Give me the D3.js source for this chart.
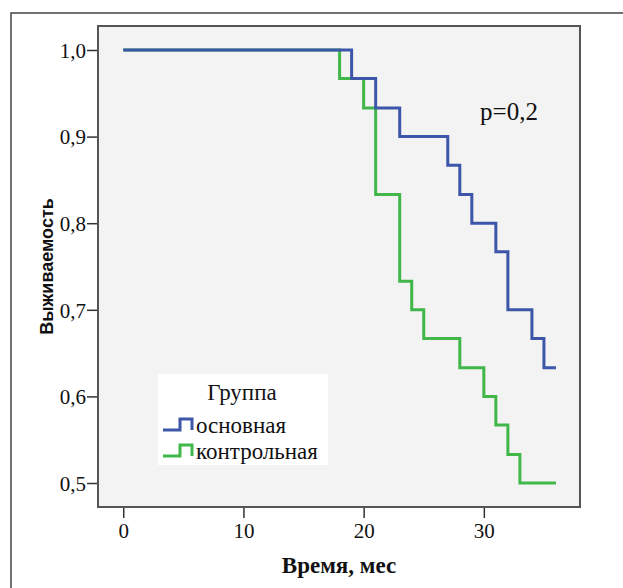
<!DOCTYPE html>
<html>
<head>
<meta charset="utf-8">
<script src="https://cdn.jsdelivr.net/npm/d3@7"></script>
<style>
  body { margin: 0; background: #fff; }
  svg { display: block; }
  .serif { font-family: "Liberation Serif", "DejaVu Serif", serif; }
</style>
</head>
<body>
<div id="chart"></div>
<script>
// step data: time (months) and survival after each step
var mainTimes = [0, 19, 21, 23, 27, 28, 29, 31, 32, 34, 35, 36];
var mainSurv  = [1.0, 0.967, 0.933, 0.9, 0.867, 0.833, 0.8, 0.767, 0.7, 0.667, 0.633, 0.633];
var ctrlTimes = [0, 18, 20, 21, 23, 24, 25, 28, 30, 31, 32, 33, 36];
var ctrlSurv  = [1.0, 0.967, 0.933, 0.833, 0.733, 0.7, 0.667, 0.633, 0.6, 0.567, 0.533, 0.5, 0.5];
var groupNames = ["основная", "контрольная"];
var groupColors = ["#3d56a9", "#41b74a"];
var xTicks = [0, 10, 20, 30];
var yTicks = [0.5, 0.6, 0.7, 0.8, 0.9, 1.0];

var W = 623, H = 588;
var plot = {left: 98, top: 26, right: 580, bottom: 507};

var svg = d3.select("#chart").append("svg")
  .attr("width", W)
  .attr("height", H);

// outer frame (runs off the right and bottom edges)
svg.append("rect")
  .attr("x", 11).attr("y", 13)
  .attr("width", 700).attr("height", 700)
  .attr("fill", "#fff")
  .attr("stroke", "#444")
  .attr("stroke-width", 1.5);

var x = d3.scaleLinear()
  .domain([-2.1, 38.0])
  .range([plot.left, plot.right]);
var y = d3.scaleLinear()
  .domain([0.4723, 1.0277])
  .range([plot.bottom, plot.top]);

svg.append("rect")
  .attr("x", plot.left).attr("y", plot.top)
  .attr("width", plot.right - plot.left)
  .attr("height", plot.bottom - plot.top)
  .attr("fill", "#f2f3f2")
  .attr("stroke", "#555")
  .attr("stroke-width", 2);

// axes
var xAxis = svg.append("g")
  .attr("transform", "translate(0," + (plot.bottom + 1) + ")")
  .call(d3.axisBottom(x).tickValues(xTicks).tickSize(10).tickSizeOuter(0).tickPadding(5));
xAxis.select(".domain").remove();

var yAxis = svg.append("g")
  .attr("transform", "translate(" + (plot.left - 1) + ",0)")
  .call(d3.axisLeft(y).tickValues(yTicks).tickSize(10).tickSizeOuter(0).tickPadding(1)
    .tickFormat(function(d) { return d3.format(".1f")(d).replace(".", ","); }));
yAxis.select(".domain").remove();

svg.selectAll("g.tick line").attr("stroke", "#333").attr("stroke-width", 1.5);
svg.selectAll("g.tick text")
  .attr("class", "serif")
  .attr("fill", "#111")
  .style("font-size", "21px");
xAxis.attr("font-family", null);
yAxis.attr("font-family", null);
yAxis.selectAll(".tick text").attr("dy", "0.35em");

// curves
var line = d3.line()
  .curve(d3.curveStepAfter)
  .x(function(d) { return x(d[0]); })
  .y(function(d) { return y(d[1]); });

function pairs(t, s) {
  return t.map(function(v, i) { return [v, s[i]]; });
}

svg.append("path")
  .datum(pairs(ctrlTimes, ctrlSurv))
  .attr("fill", "none")
  .attr("stroke", groupColors[1])
  .attr("stroke-width", 3)
  .attr("d", line);

svg.append("path")
  .datum(pairs(mainTimes, mainSurv))
  .attr("fill", "none")
  .attr("stroke", groupColors[0])
  .attr("stroke-width", 3)
  .attr("d", line);

// p value
svg.append("text")
  .attr("class", "serif")
  .attr("x", 509).attr("y", 120)
  .attr("text-anchor", "middle")
  .style("font-size", "25px")
  .attr("fill", "#111")
  .text("p=0,2");

// axis titles
svg.append("text")
  .attr("class", "serif")
  .attr("x", (plot.left + plot.right) / 2).attr("y", 573)
  .attr("text-anchor", "middle")
  .style("font-size", "23px")
  .style("font-weight", "bold")
  .attr("fill", "#111")
  .text("Время, мес");

svg.append("text")
  .attr("transform", "translate(53," + ((plot.top + plot.bottom) / 2) + ") rotate(-90)")
  .attr("text-anchor", "middle")
  .style("font-family", "'Liberation Sans', Arial, sans-serif")
  .style("font-size", "18px")
  .style("font-weight", "bold")
  .attr("fill", "#111")
  .text("Выживаемость");

// legend
var legend = svg.append("g");
legend.append("rect")
  .attr("x", 158).attr("y", 374)
  .attr("width", 170).attr("height", 91)
  .attr("fill", "#fff");
legend.append("text")
  .attr("class", "serif")
  .attr("x", 242).attr("y", 400)
  .attr("text-anchor", "middle")
  .style("font-size", "23px")
  .attr("fill", "#111")
  .text("Группа");

groupNames.forEach(function(name, i) {
  var by = 430 + i * 26;
  legend.append("path")
    .attr("d", "M163," + by + "H180V" + (by - 11) + "H192V" + by)
    .attr("fill", "none")
    .attr("stroke", groupColors[i])
    .attr("stroke-width", 3);
  legend.append("text")
    .attr("class", "serif")
    .attr("x", 196).attr("y", by + 3)
    .style("font-size", "23px")
    .attr("fill", "#111")
    .text(name);
});
</script>
</body>
</html>
